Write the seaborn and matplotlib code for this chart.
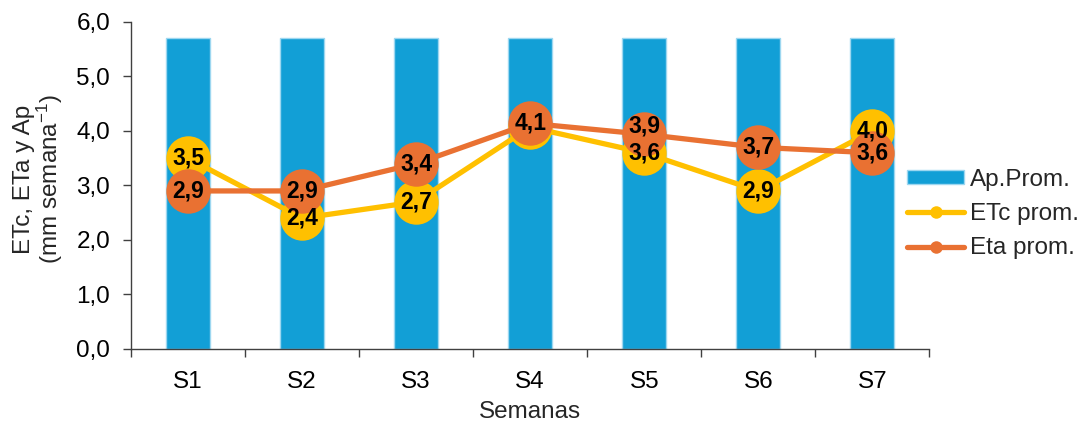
"""
plot.py - ETc, ETa y Ap por semana (barras + lineas)
"""
import matplotlib
matplotlib.use('Agg')
import matplotlib.pyplot as plt
import matplotlib.patches as mpatches
from matplotlib.lines import Line2D
from matplotlib.ticker import FuncFormatter
import seaborn as sns
import numpy as np

# ── Datos ─────────────────────────────────────────────────────────────────────
semanas = ['S1', 'S2', 'S3', 'S4', 'S5', 'S6', 'S7']
ap_prom = [5.7, 5.7, 5.7, 5.7, 5.7, 5.7, 5.7]
etc_prom = [3.5, 2.4, 2.7, 4.07, 3.6, 2.9, 4.0]
eta_prom = [2.9, 2.9, 3.4, 4.14, 3.94, 3.7, 3.6]

AZUL = '#129FD6'
AMARILLO = '#FFC000'
NARANJA = '#E97132'
GRIS = '#404040'
FS = 17.5

sns.set_style('ticks')
plt.rcParams['font.family'] = ['Liberation Sans', 'DejaVu Sans']
plt.rcParams['mathtext.fontset'] = 'custom'
plt.rcParams['mathtext.rm'] = 'Liberation Sans'
plt.rcParams['mathtext.it'] = 'Liberation Sans:italic'

fig, ax = plt.subplots(figsize=(10.82, 4.23), dpi=100)
fig.subplots_adjust(left=0.121, right=0.859, bottom=0.175, top=0.948)

# barras
sns.barplot(x=semanas, y=ap_prom, color=AZUL, saturation=1, width=0.385,
            edgecolor='#9DD7F0', linewidth=1, ax=ax, zorder=1)

# lineas
sns.pointplot(x=semanas, y=etc_prom, color=AMARILLO, markers='o', errorbar=None,
              markersize=32, linewidth=3.8, markeredgewidth=0, ax=ax, zorder=3)
sns.pointplot(x=semanas, y=eta_prom, color=NARANJA, markers='o', errorbar=None,
              markersize=32, linewidth=3.8, markeredgewidth=0, ax=ax, zorder=4)

# etiquetas de valores
# - si ETc y Eta casi coinciden, la etiqueta de ETc queda oculta (como en el original)
# - si estan cerca, la de Eta se sube un poco
lbl = dict(ha='center', va='center', fontsize=16.5, fontweight='bold',
           color='black', zorder=10, textcoords='offset points')
for i, (v1, v2) in enumerate(zip(etc_prom, eta_prom)):
    gap = abs(v1 - v2)
    if gap >= 0.15:
        ax.annotate(f'{v1:.1f}'.replace('.', ','), (i, v1), xytext=(0, 0), **lbl)
    dy = 6 if (0.15 <= gap < 0.38 and v2 > v1) else 0
    ax.annotate(f'{v2:.1f}'.replace('.', ','), (i, v2), xytext=(0, dy), **lbl)

# ejes
ax.set_xlim(-0.5, 6.5)
ax.set_ylim(0, 6)
ax.set_yticks(np.arange(0, 7, 1))
ax.yaxis.set_major_formatter(FuncFormatter(lambda v, p: f'{v:.1f}'.replace('.', ',')))
ax.set_xticks(range(len(semanas)))
ax.set_xticklabels(semanas)
ax.set_xticks(np.arange(-0.5, 7, 1), minor=True)
ax.tick_params(axis='x', which='major', length=0, pad=16, labelsize=FS, colors='black')
ax.tick_params(axis='x', which='minor', length=5.5, width=1, color=GRIS, bottom=True)
ax.tick_params(axis='y', which='major', length=6, width=1, color=GRIS, pad=9,
               labelsize=FS, labelcolor='black')
sns.despine(ax=ax)
for s in ('left', 'bottom'):
    ax.spines[s].set_color(GRIS)
    ax.spines[s].set_linewidth(1)

ax.set_xlabel('Semanas', fontsize=FS)
ax.xaxis.set_label_coords(0.5, -0.16)
ax.set_ylabel('ETc, ETa y Ap\n(mm semana$^{-1}$)', fontsize=FS, linespacing=1.0)
ax.yaxis.set_label_coords(-0.082, 0.52)

# leyenda
handles = [
    mpatches.Patch(facecolor=AZUL, edgecolor='#9DD7F0', linewidth=1),
    Line2D([], [], color=AMARILLO, lw=3.8, marker='o', markersize=9, markeredgewidth=0,
           solid_capstyle='round'),
    Line2D([], [], color=NARANJA, lw=3.8, marker='o', markersize=9, markeredgewidth=0,
           solid_capstyle='round'),
]
fig.legend(handles, ['Ap.Prom.', 'ETc prom.', 'Eta prom.'], loc='upper left',
           bbox_to_anchor=(907 / 1082, 1 - 169 / 423), frameon=False, fontsize=FS,
           handlelength=2.35, handleheight=0.5, handletextpad=0.25, labelspacing=0.5,
           borderaxespad=0, borderpad=0)

plt.savefig('out.png', dpi=100)
plt.close()
print('OK: out.png')
